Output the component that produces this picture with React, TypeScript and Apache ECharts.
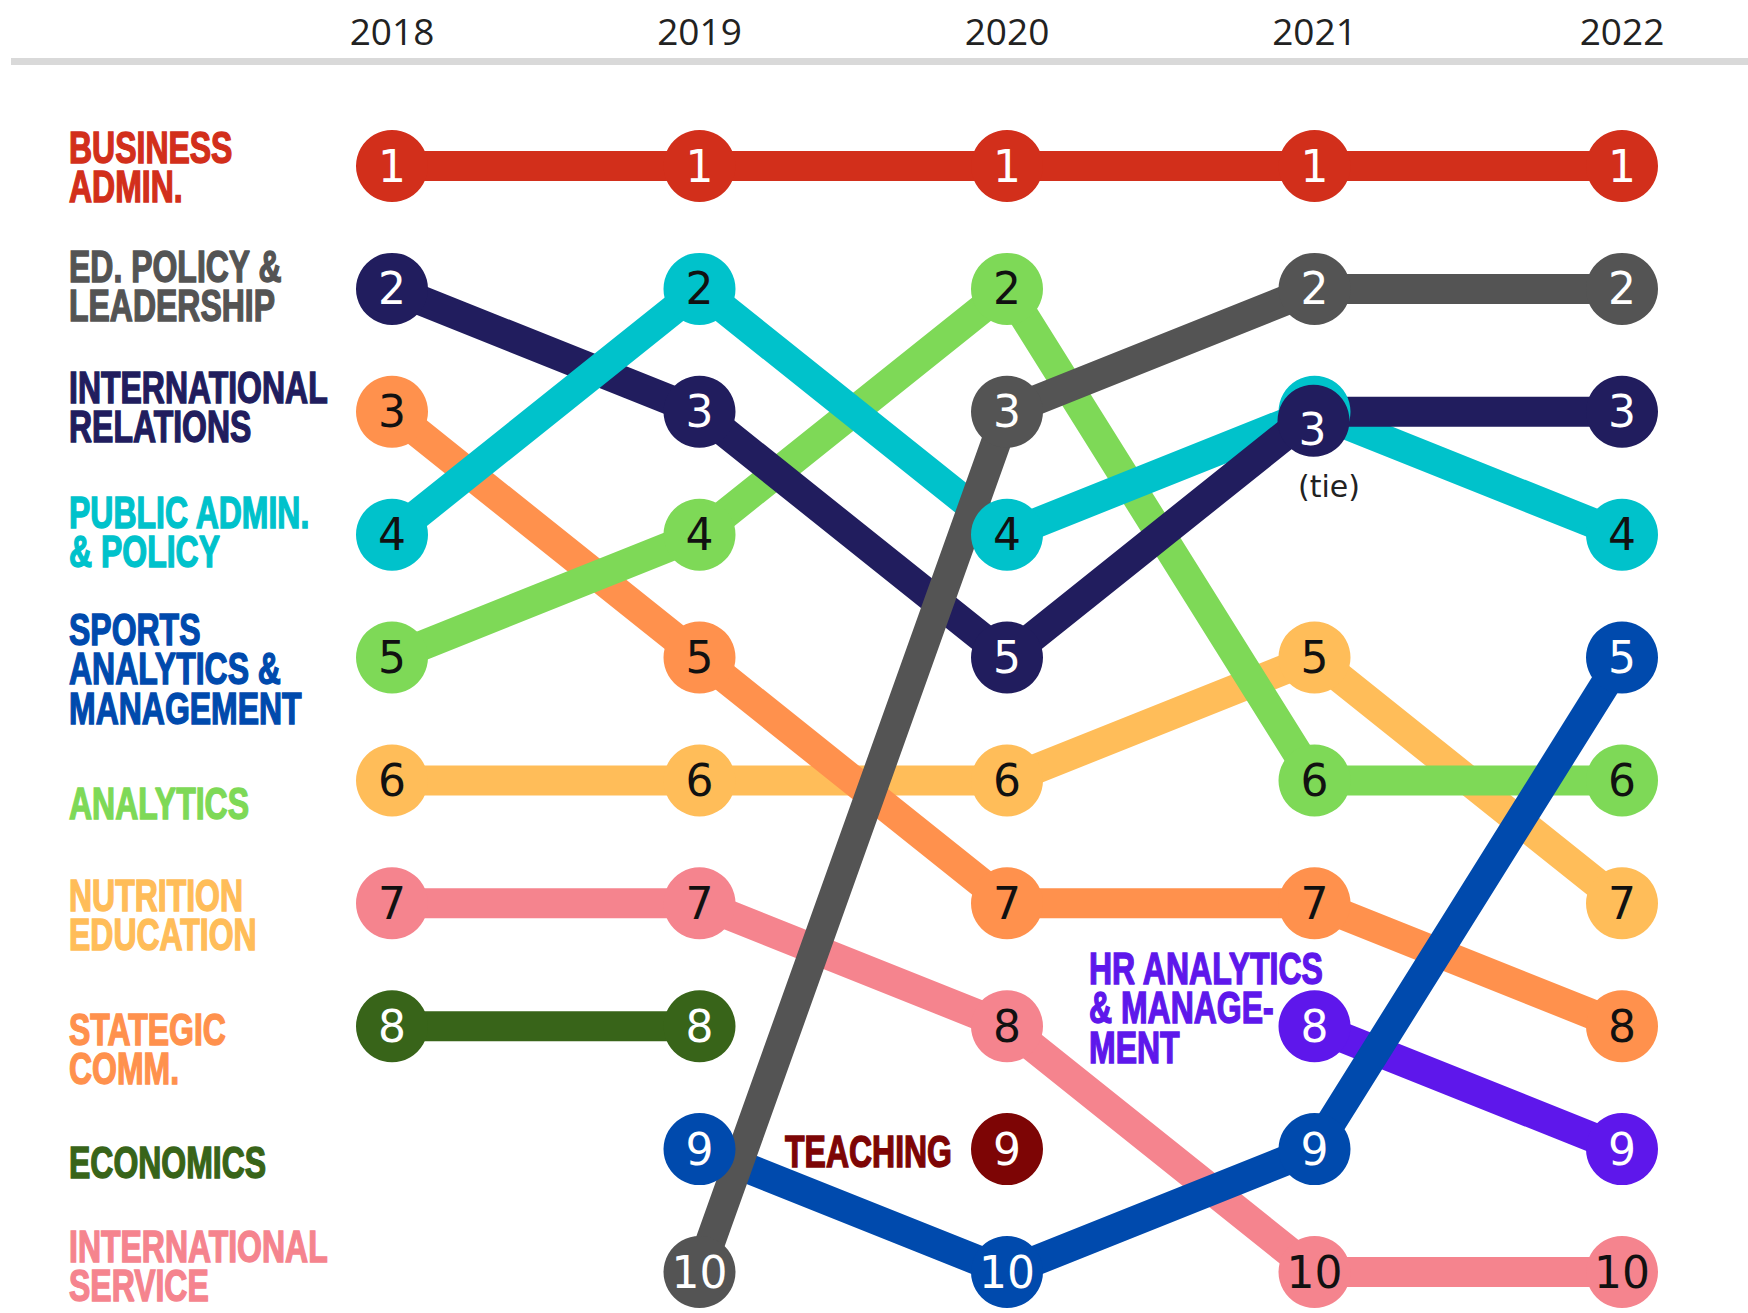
import React, { useEffect, useRef } from "react";
import * as echarts from "echarts";

const years = [2018, 2019, 2020, 2021, 2022];
const yearLabels = ["2018", "2019", "2020", "2021", "2022"];

// ranks per year (null = not ranked)
const businessAdmin = [1, 1, 1, 1, 1];
const edPolicy = [null, 10, 3, 2, 2];
const intlRelations = [2, 3, 5, 3, 3];
const publicAdmin = [4, 2, 4, 3, 4];
const sportsAnalytics = [null, 9, 10, 9, 5];
const analytics = [5, 4, 2, 6, 6];
const nutritionEd = [6, 6, 6, 5, 7];
const strategicComm = [3, 5, 7, 7, 8];
const economics = [8, 8, null, null, null];
const intlService = [7, 7, 8, 10, 10];
const hrAnalytics = [null, null, null, 8, 9];
const teaching = [null, null, 9, null, null];

const C = {
  red: "#d22f1b",
  gray: "#545454",
  navy: "#211d5e",
  cyan: "#00c2cb",
  blue: "#004aad",
  green: "#7ed957",
  yellow: "#ffbd59",
  orange: "#ff914d",
  dkgreen: "#386419",
  pink: "#f5848e",
  purple: "#5e17eb",
  teach: "#7d0505",
};

type Prog = { id: string; ranks: (number | null)[]; color: string; txt: string };

const pts = (ranks: (number | null)[], from = 0, to = 5) => {
  const out: any[] = [];
  for (let i = from; i < to; i++) {
    if (ranks[i] != null) out.push([years[i], ranks[i]]);
  }
  return out;
};

export default function App() {
  const ref = useRef<HTMLDivElement>(null);
  useEffect(() => {
    if (!ref.current) return;
    const chart = echarts.init(ref.current, null, { renderer: "svg" });

    const lineSeries = (name: string, data: any[], color: string) => ({
      type: "line",
      name,
      data,
      z: 2,
      clip: false,
      symbol: "none",
      silent: true,
      lineStyle: { color, width: 30, cap: "round", join: "round" },
    });

    // bottom -> top drawing order of the connecting lines
    const lines = [
      lineSeries("nutrition", pts(nutritionEd), C.yellow),
      lineSeries("strategic", pts(strategicComm), C.orange),
      lineSeries("analytics", pts(analytics), C.green),
      lineSeries("publicB", pts(publicAdmin, 2, 5), C.cyan),
      lineSeries("intlrel", pts(intlRelations), C.navy),
      lineSeries("publicA", pts(publicAdmin, 0, 3), C.cyan),
      lineSeries("intlserv", pts(intlService), C.pink),
      lineSeries("hr", pts(hrAnalytics), C.purple),
      lineSeries("sports", pts(sportsAnalytics), C.blue),
      lineSeries("edpolicy", pts(edPolicy), C.gray),
      lineSeries("business", pts(businessAdmin), C.red),
      lineSeries("economics", pts(economics), C.dkgreen),
    ];

    const progs: Prog[] = [
      { id: "nutrition", ranks: nutritionEd, color: C.yellow, txt: "#111" },
      { id: "strategic", ranks: strategicComm, color: C.orange, txt: "#111" },
      { id: "analytics", ranks: analytics, color: C.green, txt: "#111" },
      { id: "public", ranks: publicAdmin, color: C.cyan, txt: "#111" },
      { id: "intlrel", ranks: intlRelations, color: C.navy, txt: "#fff" },
      { id: "intlserv", ranks: intlService, color: C.pink, txt: "#111" },
      { id: "hr", ranks: hrAnalytics, color: C.purple, txt: "#fff" },
      { id: "sports", ranks: sportsAnalytics, color: C.blue, txt: "#fff" },
      { id: "edpolicy", ranks: edPolicy, color: C.gray, txt: "#fff" },
      { id: "business", ranks: businessAdmin, color: C.red, txt: "#fff" },
      { id: "economics", ranks: economics, color: C.dkgreen, txt: "#fff" },
      { id: "teaching", ranks: teaching, color: C.teach, txt: "#fff" },
    ];

    const dots = progs.map((p) => ({
      type: "scatter",
      name: p.id + "-dots",
      z: 3,
      clip: false,
      silent: true,
      symbol: "circle",
      symbolSize: 72,
      itemStyle: { color: p.color, opacity: 1 },
      data: pts(p.ranks).map((d) => {
        if (p.id === "intlrel" && d[0] === 2021)
          return { value: d, symbolOffset: [-1, 9], label: { offset: [-1, 9] } };
        if (p.id === "public" && d[0] === 2021)
          return { value: d, label: { show: false } };
        return { value: d };
      }),
      label: {
        show: true,
        position: "inside",
        formatter: (q: any) => String(q.value[1]),
        color: p.txt,
        fontSize: 44,
        fontFamily: "'DejaVu Sans', sans-serif",
        fontWeight: "normal",
      },
    }));

    const labelFont = "'Liberation Sans', Arial, sans-serif";
    const leftLabels: { text: string; color: string; y: number }[] = [
      { text: "BUSINESS\nADMIN.", color: C.red, y: 167 },
      { text: "ED. POLICY &\nLEADERSHIP", color: C.gray, y: 286 },
      { text: "INTERNATIONAL\nRELATIONS", color: C.navy, y: 407 },
      { text: "PUBLIC ADMIN.\n& POLICY", color: C.cyan, y: 532 },
      { text: "SPORTS\nANALYTICS &\nMANAGEMENT", color: C.blue, y: 669 },
      { text: "ANALYTICS", color: C.green, y: 804 },
      { text: "NUTRITION\nEDUCATION", color: C.yellow, y: 915 },
      { text: "STATEGIC\nCOMM.", color: C.orange, y: 1049 },
      { text: "ECONOMICS", color: C.dkgreen, y: 1163 },
      { text: "INTERNATIONAL\nSERVICE", color: C.pink, y: 1266 },
    ];

    const mkLabel = (text: string, color: string, x: number, y: number, align = "left") => ({
      type: "text",
      x,
      y,
      scaleX: 0.82,
      scaleY: 1.12,
      silent: true,
      z: 10,
      style: {
        text,
        fill: color,
        stroke: color,
        lineWidth: 1.3,
        fontSize: 39,
        fontWeight: "bold",
        fontFamily: labelFont,
        lineHeight: 35,
        align,
        textAlign: align,
        verticalAlign: "middle",
        textVerticalAlign: "middle",
      },
    });

    const graphics: any[] = [
      {
        type: "rect",
        silent: true,
        shape: { x: 11, y: 58, width: 1737, height: 7 },
        style: { fill: "#d9d9d9" },
      },
      ...leftLabels.map((l) => mkLabel(l.text, l.color, 69, l.y)),
      mkLabel("HR ANALYTICS\n& MANAGE-\nMENT", C.purple, 1089, 1008),
      mkLabel("TEACHING", C.teach, 952, 1152, "right"),
      {
        type: "text",
        x: 1329,
        y: 486,
        silent: true,
        z: 10,
        style: {
          text: "(tie)",
          fill: "#222",
          fontSize: 30,
          fontFamily: "'DejaVu Sans', sans-serif",
          align: "center",
          textAlign: "center",
          verticalAlign: "middle",
          textVerticalAlign: "middle",
        },
      },
    ];

    chart.setOption({
      animation: false,
      backgroundColor: "#ffffff",
      grid: { left: 392, right: 126, top: 166, bottom: 41 },
      xAxis: {
        type: "value",
        position: "top",
        min: 2018,
        max: 2022,
        interval: 1,
        axisLine: { show: false },
        axisTick: { show: false },
        splitLine: { show: false },
        axisLabel: {
          margin: 136,
          verticalAlign: "middle",
          fontSize: 37,
          color: "#222",
          fontFamily: "'Open Sans', sans-serif",
          formatter: (v: number) => yearLabels[years.indexOf(v)] ?? "",
        },
      },
      yAxis: {
        type: "value",
        inverse: true,
        min: 1,
        max: 10,
        show: false,
      },
      series: [...lines, ...dots],
      graphic: graphics,
    });

    return () => chart.dispose();
  }, []);

  return (
    <div
      ref={ref}
      style={{ position: "fixed", left: 0, top: 0, width: 1748, height: 1313, background: "#fff" }}
    />
  );
}
